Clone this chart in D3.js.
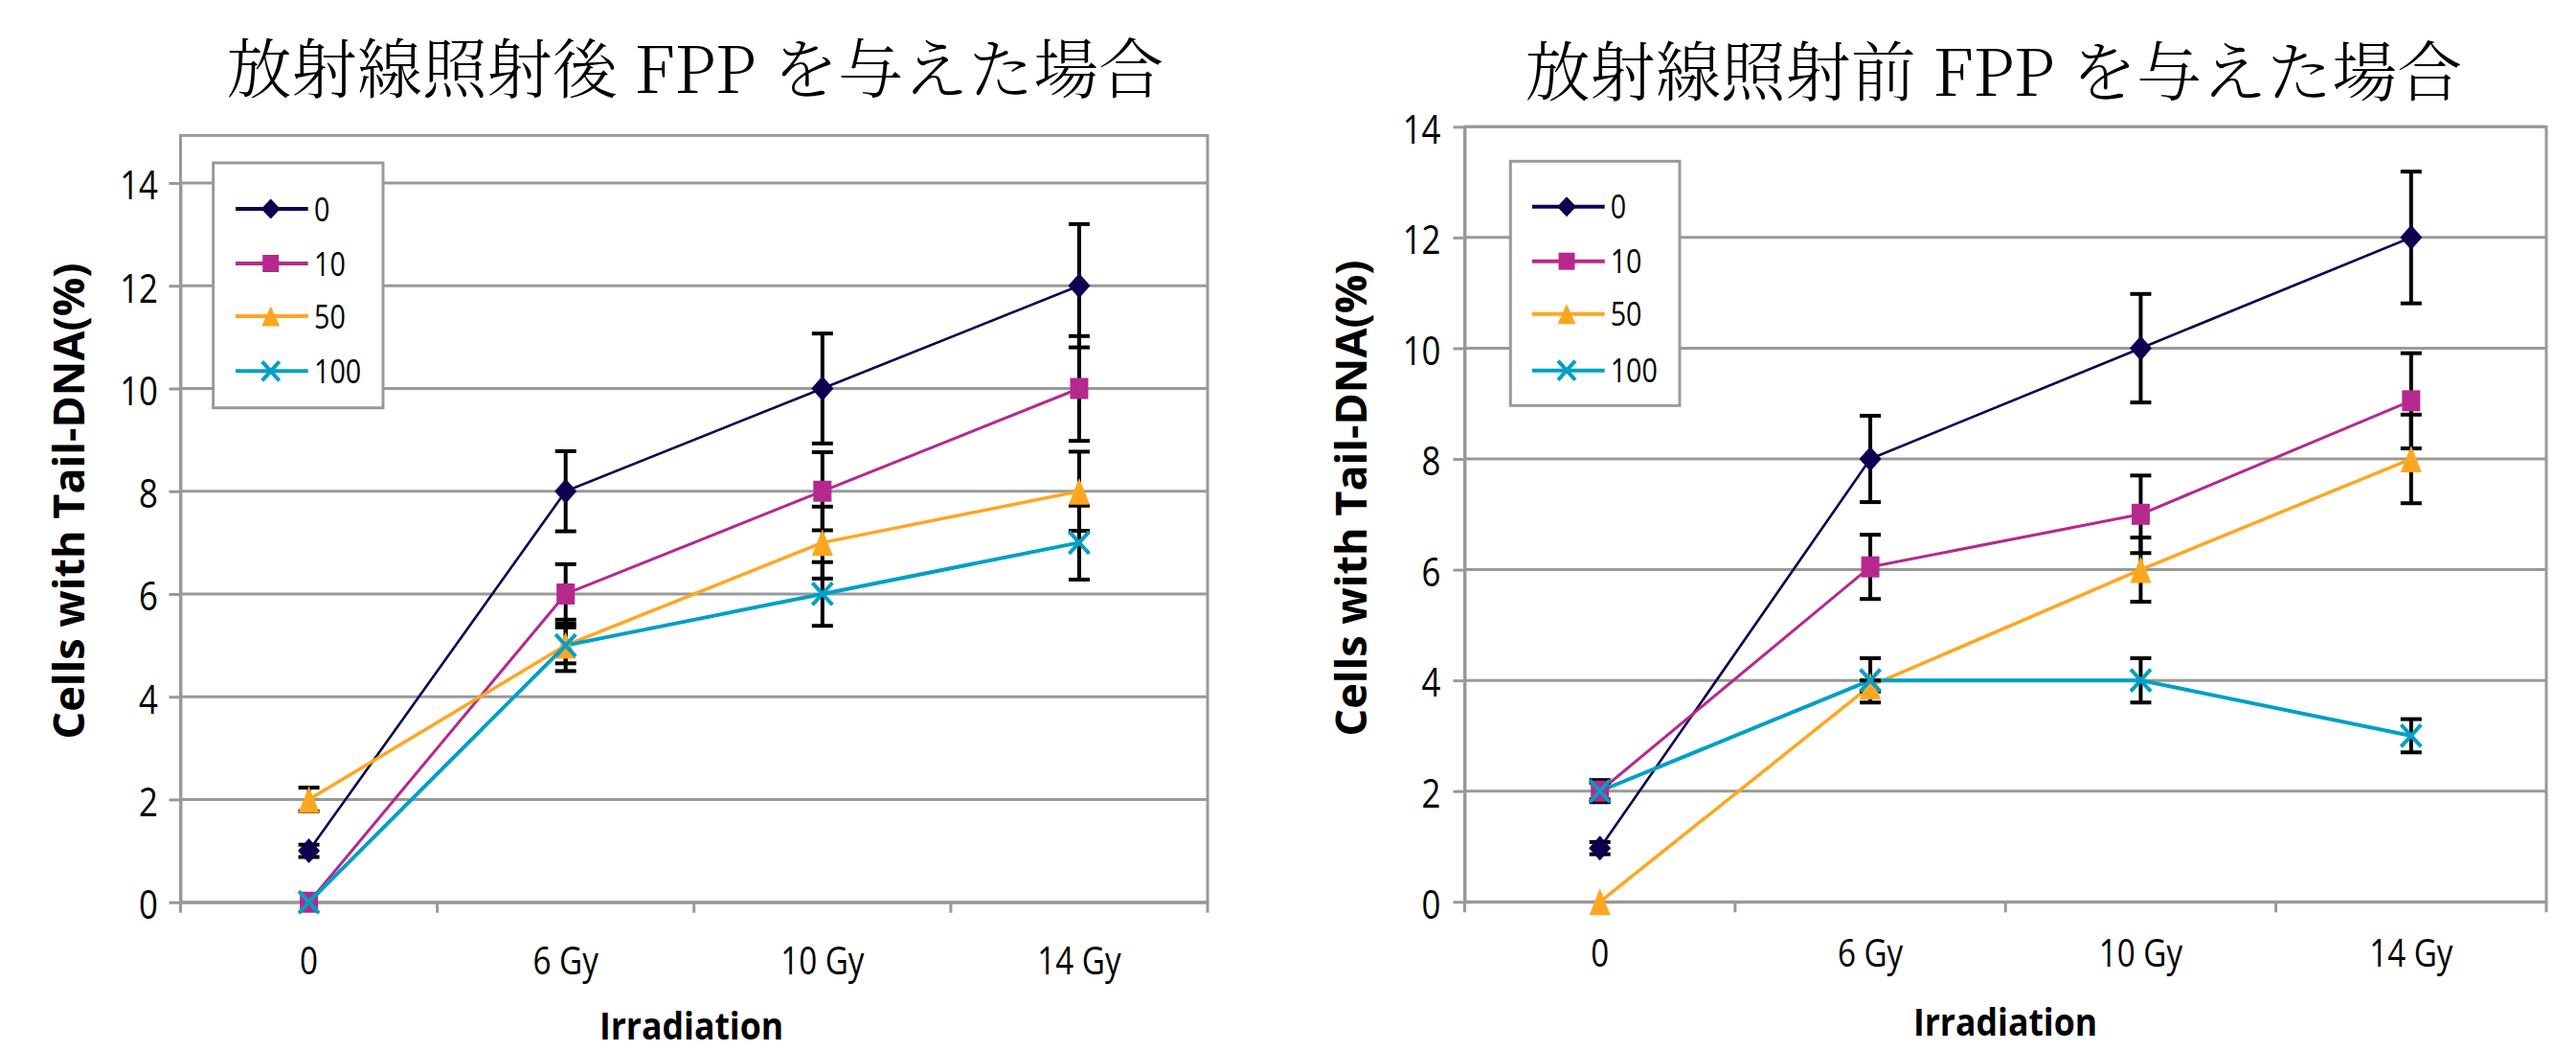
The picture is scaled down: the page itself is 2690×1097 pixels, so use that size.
<!DOCTYPE html>
<html>
<head>
<meta charset="utf-8">
<script src="https://cdn.jsdelivr.net/npm/d3@7"></script>
<style>
  body { margin: 0; background: #ffffff; }
  svg { display: block; }
</style>
</head>
<body>
<svg id="chart" width="2690" height="1097"></svg>
<script>
// ---------------- DATA ----------------
const categories = ["0", "6 Gy", "10 Gy", "14 Gy"];
const seriesNames = ["0", "10", "50", "100"];
const yTickValues = [0, 2, 4, 6, 8, 10, 12, 14];
const xAxisTitle = "Irradiation";
const yAxisTitle = "Cells with Tail-DNA(%)";

// Left chart: FPP given after irradiation
const afterTitle = "放射線照射後 FPP を与えた場合";
const afterS0 = [1, 8, 10, 12];
const afterS0Err = [0.12, 0.78, 1.07, 1.2];
const afterS10 = [0, 6, 8, 10];
const afterS10Err = [0, 0.58, 0.76, 1.02];
const afterS50 = [2, 5, 7, 8];
const afterS50Err = [0.23, 0.5, 0.7, 0.77];
const afterS100 = [0, 5, 6, 7];
const afterS100Err = [0, 0.35, 0.62, 0.72];

// Right chart: FPP given before irradiation
const beforeTitle = "放射線照射前 FPP を与えた場合";
const beforeS0 = [0.97, 8, 10, 12];
const beforeS0Err = [0.11, 0.78, 0.98, 1.19];
const beforeS10 = [2, 6.05, 7, 9.05];
const beforeS10Err = [0.2, 0.58, 0.7, 0.86];
const beforeS50 = [0, 3.9, 6, 8];
const beforeS50Err = [0, 0.1, 0.58, 0.8];
const beforeS100 = [2, 4, 4, 3];
const beforeS100Err = [0.15, 0.4, 0.4, 0.3];

// ---------------- STYLE ----------------
const seriesColors = ["#10004f", "#b5298f", "#ffa620", "#00a0c4"];
const seriesMarkers = ["diamond", "square", "triangle", "cross"];
const seriesWidths = [2.6, 3, 3.5, 4];
const GRAY = "#999999";
const FONT = "'Open Sans', 'Noto Sans', sans-serif";
const TITLE_FONT = "'Noto Serif CJK JP', 'Liberation Serif', 'Noto Sans CJK JP', serif";

const svg = d3.select("#chart");

function markerPath(type, w, h) {
  const p = d3.path();
  if (type === "diamond") {
    p.moveTo(0, -h / 2); p.lineTo(w / 2, 0); p.lineTo(0, h / 2); p.lineTo(-w / 2, 0); p.closePath();
  } else if (type === "square") {
    p.rect(-w / 2, -h / 2, w, h);
  } else if (type === "triangle") {
    p.moveTo(0, -h / 2); p.lineTo(w / 2, h / 2); p.lineTo(-w / 2, h / 2); p.closePath();
  } else {
    p.moveTo(-w / 2, -h / 2); p.lineTo(w / 2, h / 2);
    p.moveTo(w / 2, -h / 2); p.lineTo(-w / 2, h / 2);
  }
  return p.toString();
}
const markerSize = {
  diamond: [23, 26], square: [19, 22], triangle: [22, 28], cross: [21, 23]
};
const legendMarkerSize = {
  diamond: [20, 21], square: [17, 18], triangle: [19, 21], cross: [18, 20]
};

function appendMarker(sel, type, color, size) {
  const [w, h] = size;
  const m = sel.append("path").attr("d", markerPath(type, w, h));
  if (type === "cross") {
    m.attr("fill", "none").attr("stroke", color).attr("stroke-width", 4);
  } else {
    m.attr("fill", color).attr("stroke", "none");
  }
  return m;
}

function drawChart(cfg) {
  const g = svg.append("g");
  const x = d3.scaleBand().domain(categories).range([cfg.left, cfg.right]).paddingInner(0).paddingOuter(0);
  const y = d3.scaleLinear().domain([0, 14]).range([cfg.y0, cfg.y14]);
  const cx = c => x(c) + x.bandwidth() / 2;

  // Title
  g.append("text")
    .attr("x", cfg.titleX).attr("y", cfg.titleY)
    .attr("text-anchor", "middle")
    .attr("font-family", TITLE_FONT)
    .attr("font-size", 68)
    .attr("font-weight", 300)
    .attr("fill", "#000")
    .text(cfg.title);

  // Gridlines
  g.selectAll("line.grid").data(yTickValues.filter(v => v > 0)).join("line")
    .attr("class", "grid")
    .attr("x1", cfg.left).attr("x2", cfg.right)
    .attr("y1", d => y(d)).attr("y2", d => y(d))
    .attr("stroke", GRAY).attr("stroke-width", 3);

  // Frame
  g.append("rect")
    .attr("x", cfg.left).attr("y", cfg.top)
    .attr("width", cfg.right - cfg.left).attr("height", y(0) - cfg.top)
    .attr("fill", "none").attr("stroke", GRAY).attr("stroke-width", 3);

  // Y axis
  const ySX = 0.83;
  const yAxis = d3.axisLeft(y).tickValues(yTickValues).tickSize(12).tickSizeOuter(0).tickPadding(cfg.yGap - 12);
  const ya = g.append("g").attr("transform", `translate(${cfg.left},0)`).call(yAxis);
  ya.attr("font-family", FONT).attr("font-size", 42);
  ya.select(".domain").attr("stroke", GRAY).attr("stroke-width", 3);
  ya.selectAll(".tick line").attr("stroke", GRAY).attr("stroke-width", 3);
  ya.selectAll(".tick text")
    .attr("fill", "#000")
    .attr("x", -cfg.yGap / ySX)
    .attr("dy", "0.40em")
    .attr("transform", `scale(${ySX},1)`);

  // X axis (labels at category centers, ticks between categories)
  const xSX = 0.83;
  const xAxis = d3.axisBottom(x).tickSize(0).tickSizeOuter(0).tickPadding(cfg.xPad);
  const xa = g.append("g").attr("transform", `translate(0,${y(0)})`).call(xAxis);
  xa.attr("font-family", FONT).attr("font-size", 40);
  xa.select(".domain").attr("stroke", GRAY).attr("stroke-width", 3);
  xa.selectAll(".tick text").attr("fill", "#000").attr("transform", `scale(${xSX},1)`)
    .attr("x", 0);
  xa.selectAll(".tick").each(function (d) {
    d3.select(this).attr("transform", `translate(${cx(d)},0)`);
  });
  const boundaries = categories.map(c => x(c)).concat([x.range()[1]]);
  g.selectAll("line.xtick").data(boundaries).join("line")
    .attr("class", "xtick")
    .attr("x1", d => d).attr("x2", d => d)
    .attr("y1", y(0)).attr("y2", y(0) + 11)
    .attr("stroke", GRAY).attr("stroke-width", 3);

  // Axis titles
  g.append("text")
    .attr("transform", `translate(${cfg.yTitleX},${cfg.yTitleY}) rotate(-90)`)
    .attr("text-anchor", "middle")
    .attr("font-family", FONT).attr("font-weight", 700).attr("font-size", 45)
    .attr("fill", "#000")
    .text(yAxisTitle);
  g.append("text")
    .attr("transform", `translate(${cfg.xTitleX},${cfg.xTitleY}) scale(0.89,1)`)
    .attr("text-anchor", "middle")
    .attr("font-family", FONT).attr("font-weight", 700).attr("font-size", 40)
    .attr("fill", "#000")
    .text(xAxisTitle);

  // Series lines
  const lineGen = d3.line().x((d, j) => cx(categories[j])).y(d => y(d));
  cfg.values.forEach((vals, i) => {
    g.append("path").attr("d", lineGen(vals))
      .attr("fill", "none").attr("stroke", seriesColors[i])
      .attr("stroke-width", seriesWidths[i]).attr("stroke-linejoin", "round");
  });
  // Error bars
  cfg.values.forEach((vals, i) => {
    const errs = cfg.errors[i];
    const eg = g.append("g");
    vals.forEach((v, j) => {
      const e = errs[j];
      if (!e) return;
      const px = cx(categories[j]);
      eg.append("line").attr("x1", px).attr("x2", px)
        .attr("y1", y(v - e)).attr("y2", y(v + e))
        .attr("stroke", "#000").attr("stroke-width", 4);
      [v - e, v + e].forEach(b => {
        eg.append("line").attr("x1", px - 11).attr("x2", px + 11)
          .attr("y1", y(b)).attr("y2", y(b))
          .attr("stroke", "#000").attr("stroke-width", 4);
      });
    });
  });
  // Markers
  cfg.values.forEach((vals, i) => {
    const mg = g.append("g");
    vals.forEach((v, j) => {
      const m = appendMarker(mg, seriesMarkers[i], seriesColors[i], markerSize[seriesMarkers[i]]);
      m.attr("transform", `translate(${cx(categories[j])},${y(v)})`);
    });
  });

  // Legend
  const lg = g.append("g");
  lg.append("rect")
    .attr("x", cfg.legend.x).attr("y", cfg.legend.y)
    .attr("width", cfg.legend.w).attr("height", cfg.legend.h)
    .attr("fill", "#fff").attr("stroke", GRAY).attr("stroke-width", 3);
  seriesNames.forEach((name, i) => {
    const ry = cfg.legend.rows[i];
    lg.append("line")
      .attr("x1", cfg.legend.lineX1).attr("x2", cfg.legend.lineX2)
      .attr("y1", ry).attr("y2", ry)
      .attr("stroke", seriesColors[i]).attr("stroke-width", 4);
    const m = appendMarker(lg, seriesMarkers[i], seriesColors[i], legendMarkerSize[seriesMarkers[i]]);
    m.attr("transform", `translate(${cfg.legend.markerX},${ry})`);
    lg.append("text")
      .attr("transform", `translate(${cfg.legend.textX},${ry}) scale(0.82,1)`)
      .attr("dy", "0.36em")
      .attr("font-family", FONT).attr("font-size", 35)
      .attr("fill", "#000")
      .text(name);
  });
}

drawChart({
  title: afterTitle, titleX: 726, titleY: 97,
  left: 188.5, right: 1261, top: 141.4, y0: 941.7, y14: 191,
  yGap: 23.5, xPad: 47,
  yTitleX: 88, yTitleY: 523, xTitleX: 722, xTitleY: 1085,
  values: [afterS0, afterS10, afterS50, afterS100],
  errors: [afterS0Err, afterS10Err, afterS50Err, afterS100Err],
  legend: { x: 222.7, y: 170, w: 177.3, h: 255.7, rows: [218, 275, 330, 387.3],
            lineX1: 246, lineX2: 321.7, markerX: 282.7, textX: 328 }
});

drawChart({
  title: beforeTitle, titleX: 2082, titleY: 100,
  left: 1529.5, right: 2659, top: 132.3, y0: 941.3, y14: 132.3,
  yGap: 25, xPad: 39,
  yTitleX: 1427, yTitleY: 520, xTitleX: 2094, xTitleY: 1081,
  values: [beforeS0, beforeS10, beforeS50, beforeS100],
  errors: [beforeS0Err, beforeS10Err, beforeS50Err, beforeS100Err],
  legend: { x: 1577.3, y: 168.3, w: 176.7, h: 255, rows: [215.7, 272.7, 327.7, 386.7],
            lineX1: 1600, lineX2: 1675.7, markerX: 1636, textX: 1681.7 }
});
</script>
</body>
</html>
